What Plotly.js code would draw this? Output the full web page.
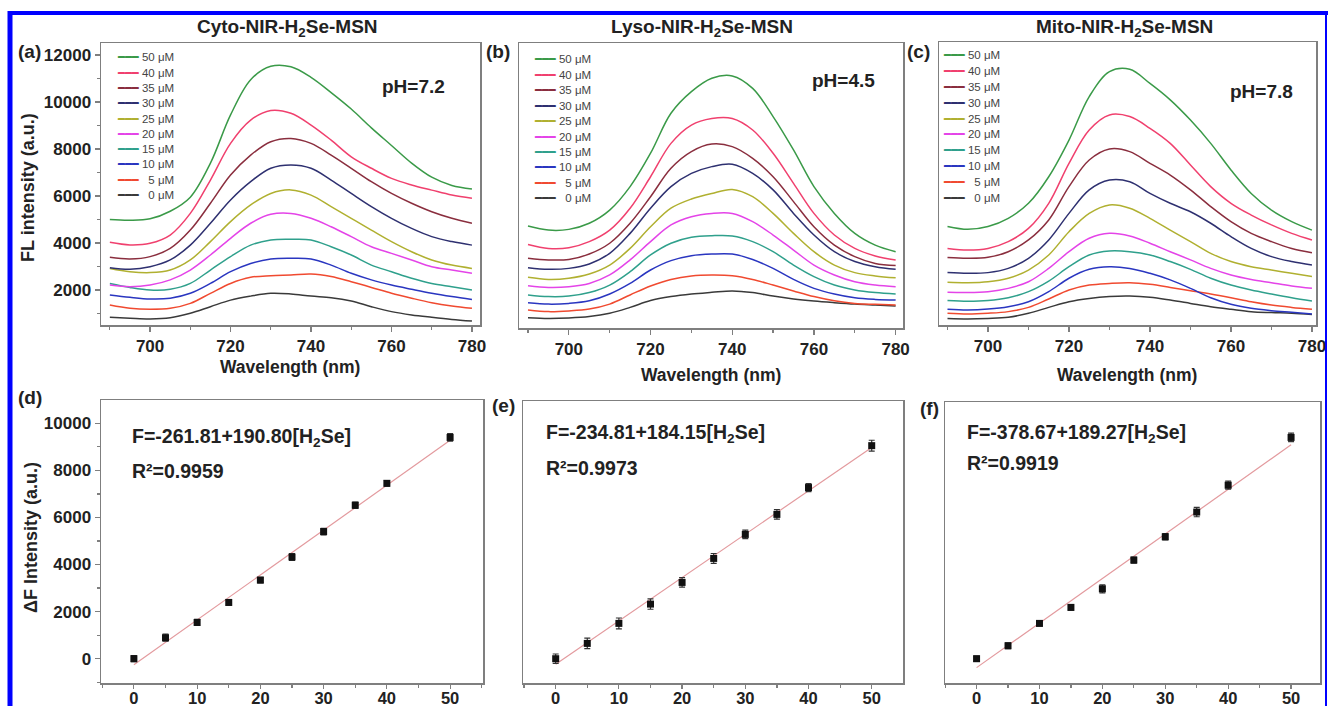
<!DOCTYPE html>
<html><head><meta charset="utf-8">
<script src="https://cdn.plot.ly/plotly-3.0.1.min.js"></script>
<style>html,body{margin:0;padding:0;background:#fff}#chart{width:1328px;height:706px}</style>
</head><body><div id="chart"></div>
<script>
// ---------- data ----------
const wavelengths = [690,695,700,705,710,715,720,725,730,735,740,745,750,755,760,765,770,775,780];
const concLabels = ['50','40','35','30','25','20','15','10','5','0'];
const seriesColors = ['#3a9a48','#f0406e','#8a2e3e','#2e3070','#b0b030','#e444e8','#2fa08c','#2a36c0','#f04a30','#3a3a3a'];

const cytoSpectra = [
  [5000,4970,5030,5350,5950,7400,9450,10950,11520,11500,11050,10400,9700,8900,8150,7400,6800,6450,6300],
  [4030,3920,3990,4340,5260,6680,8240,9230,9640,9520,9020,8380,7670,7180,6750,6470,6250,6040,5900],
  [3390,3320,3420,3770,4550,5690,6890,7740,8310,8450,8240,7740,7180,6610,6110,5690,5330,5050,4840],
  [2950,2880,2990,3280,3910,4840,5830,6610,7180,7320,7180,6680,6110,5550,5050,4620,4270,4060,3910],
  [2920,2780,2740,2850,3280,4060,4910,5620,6110,6260,6040,5550,5050,4550,4060,3630,3280,3060,2920],
  [2210,2140,2210,2430,2850,3490,4200,4840,5220,5260,5050,4690,4270,3840,3560,3280,2990,2850,2710],
  [2280,2110,2000,2030,2280,2850,3420,3910,4130,4160,4130,3840,3490,3060,2780,2500,2280,2140,2000],
  [1790,1690,1620,1650,1860,2280,2780,3130,3320,3350,3320,3060,2710,2430,2210,2030,1860,1720,1600],
  [1360,1220,1180,1220,1430,1860,2280,2540,2610,2640,2680,2570,2350,2110,1860,1650,1460,1320,1220],
  [840,800,770,820,1010,1290,1570,1740,1860,1830,1740,1670,1530,1290,1080,940,840,750,680]
];
const lysoSpectra = [
  [4720,4550,4580,4840,5400,6400,7820,9520,10440,11010,11110,10580,9380,7960,6400,5260,4410,3910,3630],
  [3940,3770,3800,4060,4550,5480,6820,8240,9020,9300,9300,8810,7820,6540,5260,4340,3770,3450,3280],
  [3350,3280,3300,3530,3990,4840,5970,7180,7890,8210,8100,7600,6820,5760,4690,3910,3420,3130,3040],
  [2950,2880,2920,3110,3560,4410,5480,6400,6960,7250,7350,6960,6260,5260,4340,3630,3210,2990,2880],
  [2540,2450,2500,2680,3060,3770,4690,5480,5870,6110,6280,5970,5260,4410,3630,3060,2740,2600,2520],
  [2180,2110,2140,2280,2640,3280,4060,4770,5120,5260,5260,4910,4340,3700,3060,2640,2350,2210,2140],
  [1790,1720,1740,1890,2210,2780,3490,3990,4240,4310,4300,4060,3630,3060,2570,2210,2000,1890,1830],
  [1460,1400,1430,1540,1830,2280,2850,3250,3460,3530,3530,3300,2920,2450,2070,1830,1670,1600,1570],
  [1150,1080,1110,1190,1400,1790,2170,2450,2600,2640,2610,2450,2210,1960,1720,1540,1430,1390,1360],
  [820,790,810,870,1010,1260,1550,1720,1830,1900,1960,1890,1740,1620,1530,1460,1400,1360,1320]
];
const mitoSpectra = [
  [4700,4580,4700,5050,5690,6820,8380,10230,11290,11390,10790,10090,9230,8240,7110,6110,5400,4910,4550],
  [3770,3700,3770,4060,4620,5690,7390,8810,9450,9380,8880,8240,7320,6400,5690,5190,4770,4410,4130],
  [3380,3350,3390,3630,4130,4980,6400,7530,8000,7890,7390,6890,6260,5550,4910,4410,4060,3770,3590],
  [2740,2710,2740,2920,3350,4130,5260,6260,6680,6610,6110,5690,5330,4840,4270,3770,3420,3210,3060],
  [2330,2310,2350,2500,2850,3490,4480,5260,5620,5480,5050,4550,4060,3560,3210,2990,2850,2710,2570],
  [1900,1890,1930,2070,2350,2920,3630,4200,4410,4300,3990,3630,3280,2920,2640,2450,2310,2170,2070],
  [1550,1520,1550,1670,1930,2380,2990,3490,3660,3630,3490,3210,2880,2500,2210,2000,1830,1670,1530],
  [1180,1150,1190,1290,1500,1930,2500,2880,2990,2920,2710,2430,2070,1670,1390,1220,1120,1050,980],
  [1010,980,1010,1080,1260,1620,2000,2210,2280,2310,2240,2110,1970,1830,1670,1500,1360,1260,1180],
  [790,770,790,840,1010,1260,1500,1640,1720,1740,1690,1570,1430,1290,1180,1080,1040,1010,960]
];

const concentrations = [0,5,10,15,20,25,30,35,40,50];
const cytoDeltaF = [0,890,1540,2390,3340,4320,5400,6520,7450,9400];
const cytoErr    = [130,150,130,120,120,140,140,130,120,160];
const lysoDeltaF = [0,650,1500,2320,3240,4260,5280,6130,7270,9050];
const lysoErr    = [200,220,230,220,200,210,180,200,170,230];
const mitoDeltaF = [0,550,1500,2180,2970,4190,5180,6230,7370,9400];
const mitoErr    = [110,120,110,120,170,130,130,200,170,180];
const fitIntercepts = [-261.81,-234.81,-378.67];
const fitSlopes = [190.80,184.15,189.27];
const fitEquations = ['F=-261.81+190.80[H<sub>2</sub>Se]','F=-234.81+184.15[H<sub>2</sub>Se]','F=-378.67+189.27[H<sub>2</sub>Se]'];
const fitR2 = ['R²=0.9959','R²=0.9973','R²=0.9919'];
const panelTitles = ['Cyto-NIR-H<sub>2</sub>Se-MSN','Lyso-NIR-H<sub>2</sub>Se-MSN','Mito-NIR-H<sub>2</sub>Se-MSN'];
const phLabels = ['pH=7.2','pH=4.5','pH=7.8'];
const panelLetters = ['(a)','(b)','(c)','(d)','(e)','(f)'];

// ---------- layout helpers ----------
const W = 1328, H = 706;
const px = v => v / W;
const py = v => 1 - v / H;
const FONT = 'Liberation Sans, Arial, sans-serif';
const GRAY = '#7f7f7f';

const traces = [];
const spectraSets = [cytoSpectra, lysoSpectra, mitoSpectra];
spectraSets.forEach((set, p) => {
  const ax = p === 0 ? '' : String(p + 1);
  for (let i = set.length - 1; i >= 0; i--) {
    traces.push({
      x: wavelengths, y: set[i], type: 'scatter', mode: 'lines',
      name: concLabels[i] + ' μM', showlegend: false,
      line: {color: seriesColors[i], width: 1.5, shape: 'spline', smoothing: 1},
      xaxis: 'x' + ax, yaxis: 'y' + ax, hoverinfo: 'skip'
    });
  }
});
const dfSets = [[cytoDeltaF, cytoErr],[lysoDeltaF, lysoErr],[mitoDeltaF, mitoErr]];
dfSets.forEach((s, p) => {
  const ax = String(p + 4);
  const xs = [concentrations[0], concentrations[concentrations.length - 1]];
  traces.push({
    x: xs, y: xs.map(c => fitIntercepts[p] + fitSlopes[p] * c),
    type: 'scatter', mode: 'lines', showlegend: false,
    line: {color: '#e39a9e', width: 1.2}, xaxis: 'x' + ax, yaxis: 'y' + ax
  });
  traces.push({
    x: concentrations, y: s[0], type: 'scatter', mode: 'markers', showlegend: false,
    marker: {symbol: 'square', size: 7, color: '#111'},
    error_y: {type: 'data', array: s[1], visible: true, color: '#333', thickness: 1.2, width: 3},
    xaxis: 'x' + ax, yaxis: 'y' + ax
  });
});

const tickFont = {family: FONT, size: 17, color: '#222', weight: 'bold'};
function axis(domain, range, extra) {
  return Object.assign({
    domain: domain, range: range, showline: true, mirror: true, linecolor: GRAY, linewidth: 1.5,
    ticks: 'outside', ticklen: 5, tickwidth: 1.2, tickcolor: GRAY, showgrid: false, zeroline: false,
    tickfont: tickFont, fixedrange: true, tickformat: 'd'
  }, extra || {});
}
const noY = {ticks: '', showticklabels: false};
const topX = {tick0: 700, dtick: 20, minor: {dtick: 10, ticks: 'outside', ticklen: 3, tickcolor: GRAY}};
const botX = {tick0: 0, dtick: 10, ticklen: 4, ticklabelstandoff: -4, tickfont: {family: FONT, size: 16.5, color: '#222', weight: 'bold'},
              minor: {dtick: 5, ticks: 'outside', ticklen: 3, tickcolor: GRAY}};
const yTicks = {tick0: 0, dtick: 2000, minor: {dtick: 1000, ticks: 'outside', ticklen: 3, tickcolor: GRAY}};

const layout = {
  width: W, height: H, margin: {l: 0, r: 0, t: 0, b: 0},
  paper_bgcolor: '#fff', plot_bgcolor: '#fff', showlegend: false,
  xaxis:  axis([px(101), px(480)], [687.8, 782], Object.assign({anchor: 'y'}, topX)),
  yaxis:  axis([py(325), py(43)], [511, 12511], Object.assign({anchor: 'x'}, yTicks)),
  xaxis2: axis([px(519), px(903)], [687.8, 781.8], Object.assign({anchor: 'y2'}, topX)),
  yaxis2: axis([py(328), py(43)], [383, 12511], Object.assign({anchor: 'x2'}, noY)),
  xaxis3: axis([px(939), px(1316)], [687.9, 781], Object.assign({anchor: 'y3'}, topX)),
  yaxis3: axis([py(325), py(42)], [511, 12553], Object.assign({anchor: 'x3'}, noY)),
  xaxis4: axis([px(101), px(483)], [-5.2, 55.2], Object.assign({anchor: 'y4'}, botX)),
  yaxis4: axis([py(683), py(400)], [-1033, 10990], Object.assign({anchor: 'x4'}, yTicks)),
  xaxis5: axis([px(523), px(903)], [-5.17, 54.95], Object.assign({anchor: 'y5'}, botX)),
  yaxis5: axis([py(683), py(401)], [-1032, 10947], Object.assign({anchor: 'x5'}, noY)),
  xaxis6: axis([px(945), px(1320)], [-5.02, 54.6], Object.assign({anchor: 'y6'}, botX)),
  yaxis6: axis([py(683), py(402)], [-1032, 10905], Object.assign({anchor: 'x6'}, noY)),
  annotations: [], shapes: []
};

function note(text, x, y, size, opts) {
  layout.annotations.push(Object.assign({
    text: text, x: px(x), y: py(y), xref: 'paper', yref: 'paper', showarrow: false,
    xanchor: 'center', yanchor: 'middle',
    font: {family: FONT, size: size, color: '#222', weight: 'bold'}
  }, opts || {}));
}
// panel titles
[[287, 28], [702, 28], [1124, 28]].forEach((p, i) => note(panelTitles[i], p[0], p[1], 19));
// panel letters
[[29, 51], [498, 51], [919, 51], [30, 397], [503, 405], [929, 409]].forEach((p, i) => note(panelLetters[i], p[0], p[1], 19));
// pH labels
[[413, 86], [843, 80], [1261, 92]].forEach((p, i) => note(phLabels[i], p[0], p[1], 19));
// axis titles
note('FL intensity (a.u.)', 28, 188, 18, {textangle: -90});
note('ΔF Intensity (a.u.)', 31, 538, 18, {textangle: -90});
[[290, 367], [711, 375], [1127, 375]].forEach(p => note('Wavelength (nm)', p[0], p[1], 17.5));
// fit equations
[[130, 437, 471], [544, 433, 468], [965, 433, 463]].forEach((p, i) => {
  note(fitEquations[i], p[0], p[1], 19.5, {xanchor: 'left'});
  note(fitR2[i], p[0], p[2], 19.5, {xanchor: 'left'});
});
// legends (per spectra panel)
[[115, 57.3, 15.3], [532, 59.3, 15.45], [941, 55, 15.9]].forEach(p => {
  concLabels.forEach((lab, i) => {
    const pad = lab.length === 1 ? '\u2007' : '';
    note('<span style="color:' + seriesColors[i] + ';font-family:DejaVu Sans">━━━</span>' + pad + ' ' + lab + ' μM',
      p[0], p[1] + i * p[2], 11.5, {xanchor: 'left', font: {family: FONT, size: 11.5, color: '#444'}});
  });
});
// blue frame
layout.shapes.push({type: 'line', xref: 'paper', yref: 'paper', x0: px(8), x1: 1, y0: py(13), y1: py(13), line: {color: '#0000ff', width: 4}});
layout.shapes.push({type: 'line', xref: 'paper', yref: 'paper', x0: px(10), x1: px(10), y0: py(11), y1: 0, line: {color: '#0000ff', width: 5}});
layout.shapes.push({type: 'line', xref: 'paper', yref: 'paper', x0: px(1326), x1: px(1326), y0: py(11), y1: 0, line: {color: '#0000ff', width: 2}});

Plotly.newPlot('chart', traces, layout, {displayModeBar: false, staticPlot: true});
</script>
</body></html>
